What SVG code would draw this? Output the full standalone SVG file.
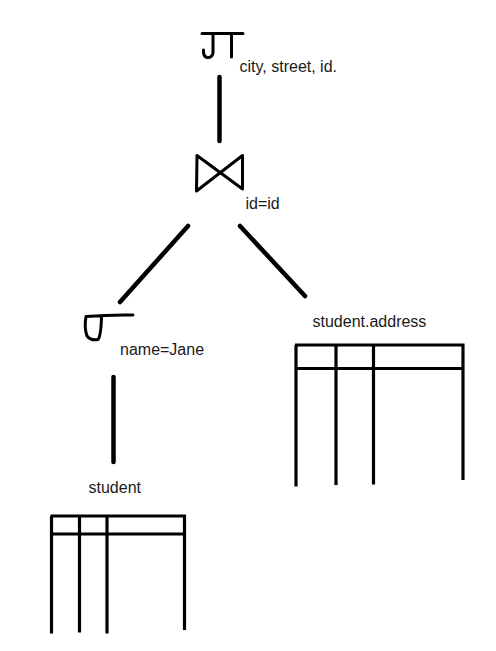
<svg xmlns="http://www.w3.org/2000/svg" width="496" height="651" viewBox="0 0 496 651">
<style>
.ink{fill:none;stroke:#000;stroke-linecap:round;stroke-linejoin:round}
.edge{stroke-width:4.5}
.sym{stroke-width:3}
.tbl{fill:none;stroke:#000;stroke-width:3.2;stroke-linecap:butt}
text{font-family:"Liberation Sans",Arial,Helvetica,sans-serif;font-size:16px;fill:#1a1a1a}
</style>
<rect width="496" height="651" fill="#fff"/>
<g id="connectors">
<line class="ink edge" x1="219.5" y1="77" x2="219.5" y2="141"/>
<line class="ink edge" x1="188" y1="226" x2="120" y2="302"/>
<line class="ink edge" x1="240" y1="226" x2="305" y2="296"/>
<line class="ink edge" x1="113.5" y1="377" x2="113.5" y2="462"/>
</g>
<g id="projection">
<path class="ink sym" d="M202 33.5 L243 33.5 M213 34 L213 53 Q212 58 207 57.5 Q203 56.5 203.5 50 M231.5 34 L231.5 57"/>
<text x="239.5" y="72">city, street, id.</text>
</g>
<g id="join">
<path class="ink sym" d="M197 155.5 L196.5 191 L242.5 155.5 L242.5 189 Z"/>
<text x="245.5" y="208.5">id=id</text>
</g>
<g id="selection">
<path class="ink sym" d="M133 315 Q110 314.5 86 316.5 Q84 328 87 336 Q91 341 98 339.5 Q101 336 101.5 317"/>
<text x="120" y="355">name=Jane</text>
</g>
<g id="student_address">
<text x="312.5" y="327">student.address</text>
<path class="tbl" d="M295 345 L464.5 345 M295 368.5 L464.5 368.5 M296 345 L296 486.5 M336 345 L336 485 M373.5 345 L373.5 484.5 M463 345 L463 480"/>
</g>
<g id="student">
<text x="88.5" y="493">student</text>
<path class="tbl" d="M50.5 516 L186 516 M50.5 534 L186 534 M51.5 516 L51.5 633.5 M79.5 516 L79.5 632.5 M107 516 L107 633.5 M184.5 516 L184.5 630"/>
</g>
</svg>
